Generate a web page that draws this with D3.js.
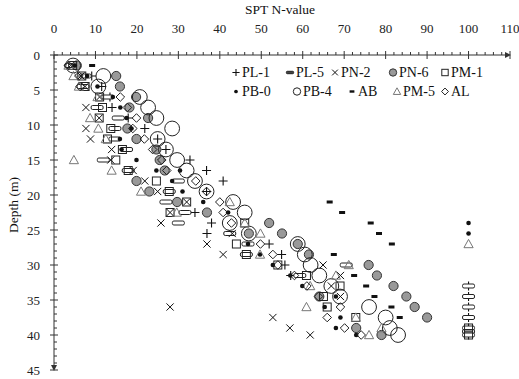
<!DOCTYPE html>
<html>
<head>
<meta charset="utf-8">
<script src="https://cdn.jsdelivr.net/npm/d3@7/dist/d3.min.js"></script>
<style>
  body { margin: 0; background: #fff; }
</style>
</head>
<body>
<svg id="chart" width="519" height="379"></svg>
<script>
// --- Data: [depth (m), SPT N] per borehole ---
const PL1 = [[1.5,5],[3,9.1],[4.5,11.5],[6,13.5],[7.5,14],[9,17.9],[10.5,21.9],[12,25],[13.5,27],[15,32.8],[16.5,36.8],[18,40.8],[19.5,36.8],[22.5,34],[24,38],[25.5,36.9],[27,51.9],[28.5,54.9],[30,55.7],[31.5,57.1],[33,100],[34.5,100],[36,100],[37.5,100],[39,100],[40,100]];
const PL5 = [[1.5,4],[3,7.5],[4.5,7],[6,13],[7.5,10.4],[9,15.5],[10.5,14.7],[12,14.7],[13.5,17.5],[15,11.9],[16.5,17.9],[18,30],[19.5,27.8],[21,27],[22.5,31.6],[24,30],[25.5,42.4],[27,46.8],[28.5,46.4],[30,70.5],[31.5,59.3],[33,100],[34.5,100],[36,100],[37.5,100],[39,100],[39.5,100],[40,100]];
const PN2 = [[1.5,4],[3,6.5],[4.5,7.5],[6,11],[7.5,7.7],[9,10.9],[10.5,7.7],[12,8.8],[13.5,13.9],[15,13.7],[16.5,19.1],[18,21.9],[19.5,25],[21,32],[22.5,28],[24,25.8],[25.5,43],[27,36.9],[28.5,40.8],[30,64.9],[31.5,69.1],[33,66.9],[34.5,69.1],[36,28],[37.5,52.8],[39,56.9],[40,61.8]];
const PN6 = [[1.5,5.5],[3,15],[4.5,15.9],[6,19.8],[7.5,18.2],[9,22.7],[10.5,17.7],[12,19.9],[13.5,24.7],[15,25.5],[16.5,26.7],[18,19.9],[19.5,23],[21,29.7],[22.5,36.9],[24,51.9],[25.5,47],[25.5,55],[27,58.8],[28.5,61.5],[30,75.9],[31.5,77.9],[33,81.9],[34.5,64],[34.5,85],[36,87],[37.5,90],[39,72.9],[40,79]];
const PM1 = [[1.5,4.5],[3,6.7],[4.5,7.5],[6,11],[7.5,11.7],[9,10.9],[10.5,13.7],[12,12.9],[13.5,16.5],[15,14.9],[16.5,17.9],[18,24.7],[19.5,27.8],[21,32],[22.5,28],[24,46],[27,44],[28.5,46.4],[30,54],[31.5,60.9],[33,69],[34.5,65],[36,65.9],[37.5,72.8],[39,100],[40,100]];
const PB0 = [[1.5,5],[3,8],[4.5,10.5],[6,14.2],[7.5,16],[9,17.5],[10.5,18.7],[12,15.9],[13.5,16.3],[15,19.9],[16.5,24.7],[16.5,30.4],[18,28.5],[19.5,31],[21,36],[22.5,42],[24,100],[25.5,100],[27,46.8],[28.5,49.7],[30,52.8],[31.5,57],[33,59.9],[34.5,68],[36,65.3],[37.5,69.1],[39,68],[40,72.9]];
const PB4 = [[1.5,4.6],[3,11.9],[4.5,10.7],[6,20.7],[7.5,22.7],[9,24.7],[10.5,28.5],[12,25],[13.5,27],[15,29.7],[16.5,32],[18,34],[19.5,36.8],[21,43.2],[22.5,46],[24,42.4],[25.5,47],[27,58.8],[28.5,60.5],[30,61.9],[31.5,64],[33,66.9],[34.5,69],[36,76],[37.5,80],[39,81],[40,83]];
const AB  = [[1.5,9.2],[21,66.5],[22.5,69.5],[24,76.4],[25.5,78.4],[27,81.5],[28.5,67.5],[31.5,72.4],[33,75.3],[34.5,77.3],[36,81.4],[37.5,83.4]];
const PM5 = [[1.5,3.5],[3,4.7],[4.5,6],[6,10.5],[9,8.7],[10.5,10.7],[12,12.5],[15,4.8],[16.5,13.9],[19.5,21],[21,42.4],[22.5,29.6],[24,46],[25.5,49.8],[27,100],[28.5,49.7],[30,71.1],[31.5,68],[33,61.8],[36,60.9],[37.5,72.8],[39,79],[40,76]];
const AL  = [[1.5,3.5],[3,6],[4.5,6.3],[6,16],[7.5,17.7],[9,19.9],[10.5,19],[12,21.8],[13.5,23.8],[15,26],[16.5,27.2],[18,34.2],[19.5,36.8],[21,40],[22.5,40.8],[24,42.8],[27,49.8],[28.5,52.8],[30,54],[31.5,58],[33,61],[34.5,63.8],[36,69.1],[37.5,65.9],[39,70.1],[40,74.1]];

const seriesNames = ["PL-1","PL-5","PN-2","PN-6","PM-1","PB-0","PB-4","AB","PM-5","AL"];
const seriesData  = [PL1, PL5, PN2, PN6, PM1, PB0, PB4, AB, PM5, AL];
const seriesShape = ["plus","bar","cross","gcircle","square","dot","bigcircle","dash","triangle","diamond"];

const xTicks = d3.range(0, 111, 10);
const yTicks = d3.range(0, 46, 5);

// --- Setup ---
const svg = d3.select("#chart")
  .attr("font-family", "'Liberation Serif', 'Times New Roman', Times, serif");
const x = d3.scaleLinear().domain([0, 110]).range([54, 510]);
const y = d3.scaleLinear().domain([0, 45]).range([55, 370]);
const axisColor = "#333";

// title
svg.append("text").attr("x", 280).attr("y", 14).attr("text-anchor", "middle")
  .attr("font-size", 13.5).attr("fill", "#111").text("SPT N-value");

// y label
svg.append("text").attr("transform", "translate(18,205) rotate(-90)")
  .attr("text-anchor", "middle").attr("font-size", 13.5).attr("fill", "#111").text("Depth (m)");

// --- Axes ---
const axes = svg.append("g").attr("stroke", axisColor).attr("stroke-width", 1);
axes.append("line").attr("x1", x(0)).attr("x2", x(110) - 2).attr("y1", y(0)).attr("y2", y(0));
axes.append("line").attr("x1", x(0)).attr("x2", x(0)).attr("y1", y(0)).attr("y2", y(45) - 2);

// x ticks: major cross, minor above
d3.range(0, 110.1, 2).forEach(v => {
  const major = v % 10 === 0;
  axes.append("line").attr("x1", x(v)).attr("x2", x(v))
    .attr("y1", y(0) - (major ? 4 : 3)).attr("y2", y(0) + (major ? 4 : 0));
});
// y ticks: major cross, minor right
d3.range(0, 45.1, 1).forEach(v => {
  const major = v % 5 === 0;
  axes.append("line").attr("y1", y(v)).attr("y2", y(v))
    .attr("x1", x(0) - (major ? 4 : 0)).attr("x2", x(0) + (major ? 4 : 3));
});
// arrow heads
svg.append("path").attr("fill", axisColor)
  .attr("d", `M${x(110)+1},${y(0)} l-6,-3 l0,6 Z`);
svg.append("path").attr("fill", axisColor)
  .attr("d", `M${x(0)},${y(45)+1} l-3,-6 l6,0 Z`);

svg.append("g").selectAll("text").data(xTicks).join("text")
  .attr("x", d => x(d)).attr("y", 33).attr("text-anchor", "middle")
  .attr("font-size", 13).attr("fill", "#222").text(d => d);

svg.append("g").selectAll("text").data(yTicks).join("text")
  .attr("x", 40).attr("y", d => y(d) + 4.5).attr("text-anchor", "end")
  .attr("font-size", 13).attr("fill", "#222").text(d => d);

// --- Markers ---
function drawMarker(g, shape, cx, cy, s) {
  const k = s || 1;
  if (shape === "plus") {
    const h = 4.5 * k;
    g.append("path").attr("d", `M${cx-h},${cy}H${cx+h}M${cx},${cy-h}V${cy+h}`)
      .attr("stroke", "#111").attr("stroke-width", 1.1).attr("fill", "none");
  } else if (shape === "cross") {
    const h = 3.6 * k;
    g.append("path").attr("d", `M${cx-h},${cy-h}L${cx+h},${cy+h}M${cx-h},${cy+h}L${cx+h},${cy-h}`)
      .attr("stroke", "#111").attr("stroke-width", 1).attr("fill", "none");
  } else if (shape === "bar") {
    g.append("rect").attr("x", cx - 6 * k).attr("y", cy - 2 * k).attr("width", 12 * k).attr("height", 4 * k)
      .attr("rx", 1.5 * k).attr("fill", k < 1 ? "#444" : "#fff").attr("stroke", "#222").attr("stroke-width", 1);
  } else if (shape === "gcircle") {
    g.append("circle").attr("cx", cx).attr("cy", cy).attr("r", 4.6 * k)
      .attr("fill", "#999").attr("stroke", "#333").attr("stroke-width", 1);
  } else if (shape === "square") {
    const h = 4 * k;
    g.append("rect").attr("x", cx - h).attr("y", cy - h).attr("width", 2 * h).attr("height", 2 * h)
      .attr("fill", "none").attr("stroke", "#222").attr("stroke-width", 1);
  } else if (shape === "dot") {
    g.append("circle").attr("cx", cx).attr("cy", cy).attr("r", 2.3 * k).attr("fill", "#111");
  } else if (shape === "bigcircle") {
    g.append("circle").attr("cx", cx).attr("cy", cy).attr("r", 7.4 * k)
      .attr("fill", "none").attr("stroke", "#222").attr("stroke-width", 1);
  } else if (shape === "dash") {
    g.append("rect").attr("x", cx - 3 * k).attr("y", cy - 1.5 * k).attr("width", 6 * k).attr("height", 3 * k)
      .attr("fill", "#111");
  } else if (shape === "triangle") {
    const h = 4.6 * k;
    g.append("path").attr("d", `M${cx},${cy-h}L${cx+h},${cy+h*0.8}L${cx-h},${cy+h*0.8}Z`)
      .attr("fill", "none").attr("stroke", "#777").attr("stroke-width", 1);
  } else if (shape === "diamond") {
    const h = 4.3 * k;
    g.append("path").attr("d", `M${cx},${cy-h}L${cx+h},${cy}L${cx},${cy+h}L${cx-h},${cy}Z`)
      .attr("fill", "none").attr("stroke", "#222").attr("stroke-width", 1);
  }
}

const plot = svg.append("g").attr("class", "points");
seriesData.forEach((pts, i) => {
  const g = plot.append("g").attr("class", "series");
  pts.forEach(p => drawMarker(g, seriesShape[i], x(p[1]), y(p[0]), 1));
});

// --- Legend ---
const legendX = [[236, 290, 335, 393, 445], [236, 297, 352, 397, 445]];
const legendY = [77, 96];
const legend = svg.append("g").attr("class", "legend");
seriesNames.forEach((name, i) => {
  const row = Math.floor(i / 5), col = i % 5;
  const mx = legendX[row][col], my = legendY[row];
  const sc = seriesShape[i] === "bigcircle" ? 0.5 : (seriesShape[i] === "bar" ? 0.6 : 0.8);
  drawMarker(legend, seriesShape[i], mx, my - 4.5, sc);
  legend.append("text").attr("x", mx + 6).attr("y", my)
    .attr("font-size", 14).attr("fill", "#111").text(name);
});
</script>
</body>
</html>
